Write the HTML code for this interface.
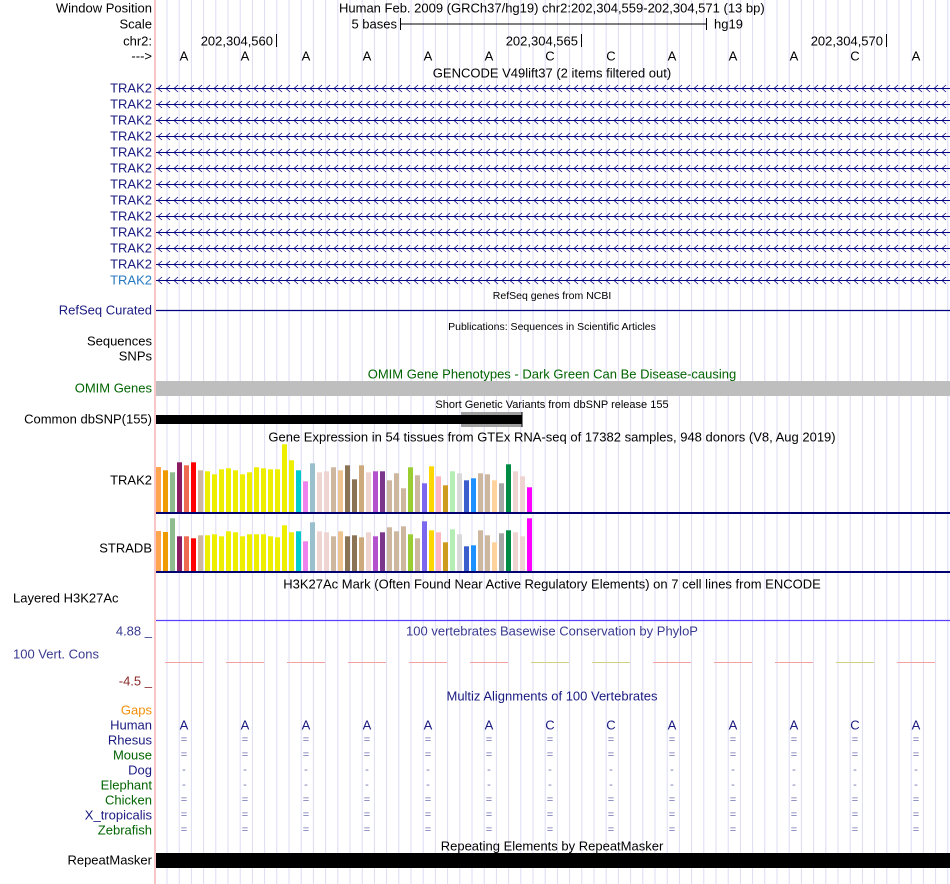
<!DOCTYPE html>
<html><head><meta charset="utf-8"><style>
body{margin:0;background:#fff;}
svg{display:block;font-family:"Liberation Sans",sans-serif;}
</style></head><body>
<svg id="s" width="950" height="884" viewBox="0 0 950 884">
<g id="grid"></g>
<line x1="155" y1="0" x2="155" y2="884" stroke="#f4a0a0" stroke-width="1.2"/>
<g id="content" font-size="13"></g>
</svg>
<script>
const categories=["Adipose-Sub","Adipose-Visc","Adrenal","Artery-Aorta","Artery-Coronary","Artery-Tibial","Bladder","Brain-Amygdala","Brain-ACC","Brain-Caudate","Brain-Cerebellar","Brain-Cerebellum","Brain-Cortex","Brain-FrontalCortex","Brain-Hippocampus","Brain-Hypothalamus","Brain-NAcc","Brain-Putamen","Brain-SpinalCord","Brain-SubstantiaNigra","Breast","EBV-Lymphocytes","Fibroblasts","Cervix-Ecto","Cervix-Endo","Colon-Sigmoid","Colon-Transverse","Esoph-GEJ","Esoph-Mucosa","Esoph-Muscularis","FallopianTube","Heart-AtrialApp","Heart-LV","Kidney-Cortex","Kidney-Medulla","Liver","Lung","Salivary","Muscle","Nerve-Tibial","Ovary","Pancreas","Pituitary","Prostate","Skin-NotSun","Skin-Sun","SmallIntestine","Spleen","Stomach","Testis","Thyroid","Uterus","Vagina","WholeBlood"];
const tissueColors=["#FFA54F","#EE9A00","#8FBC8F","#8B1C62","#EE6A50","#FF0000","#CDB79E","#EEEE00","#EEEE00","#EEEE00","#EEEE00","#EEEE00","#EEEE00","#EEEE00","#EEEE00","#EEEE00","#EEEE00","#EEEE00","#EEEE00","#EEEE00","#00CDCD","#EE82EE","#9AC0CD","#EED5D2","#EED5D2","#CDB79E","#EEC591","#8B7355","#8B7355","#CDAA7D","#EED5D2","#B452CD","#7A378B","#CDB79E","#CDB79E","#CDB79E","#9ACD32","#CDB79E","#7B68EE","#FFD700","#FFB6C1","#CD9B1D","#B4EEB4","#D9D9D9","#3A5FCD","#1E90FF","#CDB79E","#CDB79E","#FFD39B","#A6A6A6","#008B45","#EED5D2","#EED5D2","#FF00FF"];
const trak2Values=[45,41.7,39.7,49.7,46.7,49.7,41.7,40.7,37.7,42.7,43.7,41.7,37.7,39.7,44.7,43.7,42.7,42.7,67.7,51.7,41.7,30.7,48.7,39.7,40.7,44.7,41.7,46.7,32.7,46.7,39.7,40.7,40.7,31.7,38.7,23.7,44.7,36.7,28.7,45.7,35.7,26.7,40.7,38.7,31.7,33.7,38.7,37.7,31.7,28.7,47.7,40.7,35.7,24.7];
const stradbValues=[40,39,52.7,34.7,34.7,32.7,35.7,35.7,36.7,34.7,39.7,38.7,34.7,36.7,36.7,36.7,34.7,33.7,45.7,38.7,39.7,29.7,48.7,39.7,38.7,34.7,39.7,34.7,35.7,33.7,38.7,34.7,38.7,43.7,39.7,44.7,36.7,32.7,49.7,40.7,38.7,28.7,41.7,36.7,24.7,25.7,40.7,35.7,28.7,37.7,40.7,38.7,34.7,52.7];
const bases=["A","A","A","A","A","A","C","C","A","A","A","C","A"];
const phyloValues=[1,1,1,1,1,1,0.3,0.3,1,1,1,0.3,1];
const speciesNames=["Rhesus","Mouse","Dog","Elephant","Chicken","X_tropicalis","Zebrafish"];
const speciesChars=["=","=","-","-","=","=","="];
const speciesColors=["#1a1a80","#006400","#1a1a80","#006400","#006400","#1a1a80","#006400"];

const NS="http://www.w3.org/2000/svg";
const C=document.getElementById('content');
function el(tag,attrs,parent){const e=document.createElementNS(NS,tag);for(const k in attrs)e.setAttribute(k,attrs[k]);(parent||C).appendChild(e);return e;}
function txt(x,y,s,anchor,color,size,name){const t=el('text',{x:x,y:y,'text-anchor':anchor||'start',fill:color||'#000','font-size':size||13,'dominant-baseline':'central'});t.textContent=s;


return t;}
const G=document.getElementById('grid');
for(let x=167;x<950;x+=12.2){const l=el('line',{x1:x,y1:0,x2:x,y2:884,stroke:'#dcdcf4','stroke-width':1},G);

}
const bx=i=>184+61*i;
txt(152,8,"Window Position","end","#000",13,"window-position-label");
txt(339,8,"Human Feb. 2009 (GRCh37/hg19)   chr2:202,304,559-202,304,571 (13 bp)","start","#000",13,"position-title");
txt(152,24,"Scale","end","#000",13,"scale-label");
txt(397,24,"5 bases","end","#000",13,"scale-text");
el('line',{x1:400,y1:24,x2:706,y2:24,stroke:'#000'});el('line',{x1:400.5,y1:18,x2:400.5,y2:30,stroke:'#000'});el('line',{x1:706.5,y1:18,x2:706.5,y2:30,stroke:'#000'});
txt(714,24,"hg19","start","#000",13,"assembly-label");
txt(152,41,"chr2:","end","#000",13,"chrom-label");
[[276,"202,304,560"],[581,"202,304,565"],[886,"202,304,570"]].forEach(p=>{txt(p[0]-3,41,p[1],"end","#000",13,"coord-tick-label");el('line',{x1:p[0]+0.5,y1:34,x2:p[0]+0.5,y2:47,stroke:'#000'});});
txt(152,56,"--->","end","#000",13,"strand-label");
bases.forEach((b,i)=>txt(bx(i),56,b,"middle","#000",13,"base-"+i));
txt(552,73,"GENCODE V49lift37 (2 items filtered out)","middle","#000",13,"gencode-title");
for(let r=0;r<13;r++){const y=88+16*r;txt(152,y,"TRAK2","end",r==12?"#2878c0":"#1a1a80",13,"trak2-transcript-label");
let d="";for(let x=158;x<948;x+=8){d+="M"+(x+4)+","+(y-3)+" L"+x+","+(y+0.5)+" L"+(x+4)+","+(y+4)+" ";}
const p=el('path',{d:d,fill:'none',stroke:'#000080','stroke-width':0.8});


el('line',{x1:156,y1:y+0.5,x2:950,y2:y+0.5,stroke:'#000080','stroke-width':1});}
txt(552,296,"RefSeq genes from NCBI","middle","#000",10.5,"refseq-title");
txt(152,310,"RefSeq Curated","end","#1a1a80",13,"refseq-label");
el('line',{x1:156,y1:310.5,x2:950,y2:310.5,stroke:'#000080','stroke-width':1.2});
txt(552,327,"Publications: Sequences in Scientific Articles","middle","#000",10.5,"publications-title");
txt(152,341,"Sequences","end","#000",13,"sequences-label");
txt(152,356,"SNPs","end","#000",13,"snps-label");
txt(552,374,"OMIM Gene Phenotypes - Dark Green Can Be Disease-causing","middle","#006400",13,"omim-title");
txt(152,388,"OMIM Genes","end","#006400",13,"omim-label");
el('rect',{x:156,y:381,width:794,height:15,fill:'#bebebe'});
txt(552,405,"Short Genetic Variants from dbSNP release 155","middle","#000",11,"dbsnp-title");
txt(152,419,"Common dbSNP(155)","end","#000",13,"dbsnp-label");
el('rect',{x:461,y:412,width:61,height:15,fill:'#a0a0a0'});
el('rect',{x:156,y:415,width:366,height:9,fill:'#000'});
el('line',{x1:522,y1:412,x2:522,y2:427,stroke:'#000'});
txt(552,437,"Gene Expression in 54 tissues from GTEx RNA-seq of 17382 samples, 948 donors (V8, Aug 2019)","middle","#000",13,"gtex-title");
const xs=i=>156+i*7.0;
function bars(vals,base,label,ly,name){txt(152,ly,label,"end","#000",13,name+"-label");
vals.forEach((v,i)=>{const r=el('rect',{x:xs(i),y:base-v,width:5,height:v,fill:tissueColors[i]});

});
el('rect',{x:156,y:base,width:794,height:2,fill:'#000070'});}
bars(trak2Values,512,"TRAK2",480,"trak2-expression");
bars(stradbValues,571,"STRADB",548,"stradb-expression");
txt(552,584,"H3K27Ac Mark (Often Found Near Active Regulatory Elements) on 7 cell lines from ENCODE","middle","#000",13,"h3k27ac-title");
txt(13,598,"Layered H3K27Ac","start","#000",13,"h3k27ac-label");
el('line',{x1:156,y1:620.5,x2:950,y2:620.5,stroke:'#5a40ff','stroke-width':1.3});
txt(552,631,"100 vertebrates Basewise Conservation by PhyloP","middle","#3a3a90",13,"phylop-title");
txt(152,631,"4.88 _","end","#3a3a90",13,"phylop-max");
txt(13,654,"100 Vert. Cons","start","#3a3a90",13,"phylop-label");
txt(152,681,"-4.5 _","end","#8b2a2a",13,"phylop-min");
bases.forEach((b,i)=>{const l=el('line',{x1:bx(i)-19,y1:662.5,x2:bx(i)+19,y2:662.5,stroke:phyloValues[i]>0.5?'#f4a0a0':'#d0d080','stroke-width':1});

});
txt(552,696,"Multiz Alignments of 100 Vertebrates","middle","#1a1a80",13,"multiz-title");
txt(152,710,"Gaps","end","#f0900a",13,"gaps-label");
txt(152,725,"Human","end","#1a1a80",13,"human-label");
bases.forEach((b,i)=>txt(bx(i),725,b,"middle","#1a1a80",13,"human-base"));
speciesNames.forEach((s,j)=>{const y=740+15*j;txt(152,y,s,"end",speciesColors[j],13,"species-label");
bases.forEach((b,i)=>txt(bx(i),y,speciesChars[j],"middle","#7070b0",11,"alignment-char"));});
txt(552,846,"Repeating Elements by RepeatMasker","middle","#000",13,"repeatmasker-title");
txt(152,860,"RepeatMasker","end","#000",13,"repeatmasker-label");
el('rect',{x:156,y:853,width:794,height:15,fill:'#000'});
</script>
</body></html>
